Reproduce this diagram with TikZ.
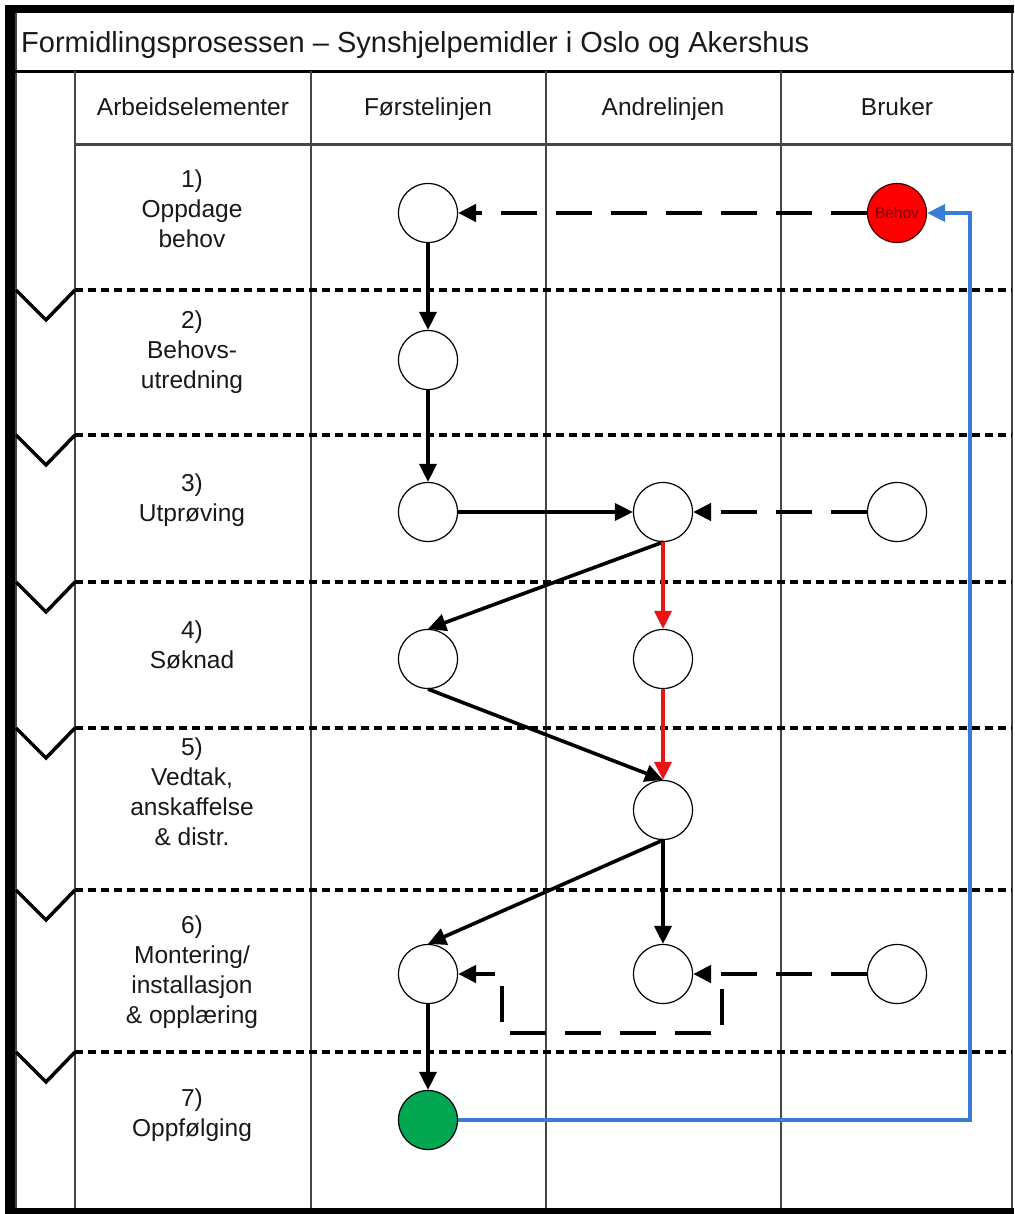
\documentclass[tikz,border=0pt]{standalone}
\usepackage{fontspec}
\setmainfont{Liberation Sans}
\usetikzlibrary{arrows.meta}
\definecolor{bluel}{RGB}{58,125,215}
\definecolor{greenn}{RGB}{0,166,80}
\definecolor{redarr}{RGB}{235,20,20}
\definecolor{gridgray}{RGB}{70,70,70}
\definecolor{txt}{RGB}{25,25,25}
\definecolor{behovtxt}{RGB}{120,0,0}
\begin{document}
\begin{tikzpicture}[x=1pt,y=-1pt,
  circ/.style={circle,draw=black,line width=1.2pt,minimum size=59pt,inner sep=0pt,fill=white},
  tipstyle/.style={-{Triangle[length=18pt,width=17pt]}},
  solidarr/.style={tipstyle,line width=3.6pt,black},
  redarrow/.style={tipstyle,line width=3.6pt,redarr},
  dasharr/.style={tipstyle,line width=4.5pt,black,dash pattern=on 36pt off 19pt},
  rowsep/.style={line width=3.5pt,dash pattern=on 8pt off 5pt},
  colline/.style={line width=2pt,gridgray},
  chev/.style={line width=3.5pt,black,line join=miter},
  lbl/.style={font=\fontsize{24.5}{30}\selectfont,align=center,text=txt,inner sep=0pt},
  hdr/.style={font=\fontsize{24.5}{30}\selectfont,text=txt,inner sep=0pt,anchor=base},
]
\useasboundingbox (0,0) rectangle (1014,1214);
\fill[white] (0,0) rectangle (1014,1214);
% frame
\fill[black] (5,5) rectangle (1014,13);
\fill[black] (5,5) rectangle (14.5,1214);
\fill[black] (5,1208) rectangle (1014,1214);
\draw[gridgray,line width=1.5pt] (16,13) -- (16,1208);
\draw[gridgray,line width=1.5pt] (1012,13) -- (1012,1208);
% title and header lines
\draw[black,line width=3pt] (14,71.5) -- (1014,71.5);
\draw[gridgray,line width=3pt] (75,145) -- (1012,145);
\foreach \x in {75,311,546,781} \draw[colline] (\x,71.5) -- (\x,1208);
% row separators and chevrons
\foreach \y in {290,435,582,728,890,1052} {
  \draw[rowsep] (75,\y) -- (1012,\y);
  \draw[chev] (16,\y) -- (46,\y+30) -- (75,\y);
}
% texts
\node[anchor=base west,font=\fontsize{29}{34}\selectfont,text=txt,inner sep=0pt] (title) at (21,52.5) {Formidlingsprosessen – Synshjelpemidler i Oslo og Akershus};
\node[hdr] (h1) at (193,116) {Arbeidselementer};
\node[hdr] (h2) at (428,116) {Førstelinjen};
\node[hdr] (h3) at (663,116) {Andrelinjen};
\node[hdr] (h4) at (897,116) {Bruker};
\node[lbl] (r1) at (192,209) {1)\\Oppdage\\behov};
\node[lbl] (r2) at (192,352) {2)\\Behovs-\\utredning};
\node[lbl] (r3) at (192,500) {3)\\Utprøving};
\node[lbl] (r4) at (192,645) {4)\\Søknad};
\node[lbl] (r5) at (192,792) {5)\\Vedtak,\\anskaffelse\\\& distr.};
\node[lbl] (r6) at (192,972) {6)\\Montering/\\installasjon\\\& opplæring};
\node[lbl] (r7) at (192,1115) {7)\\Oppfølging};
% circles
\node[circ] (f1) at (428,213) {};
\node[circ,fill=red,draw=black!70!red,font=\fontsize{15.5}{17}\selectfont,text=behovtxt] (b1) at (897,213) {Behov};
\node[circ] (f2) at (428,360) {};
\node[circ] (f3) at (428,512) {};
\node[circ] (a3) at (663,512) {};
\node[circ] (b3) at (897,512) {};
\node[circ] (f4) at (428,659) {};
\node[circ] (a4) at (663,659) {};
\node[circ] (a5) at (663,810) {};
\node[circ] (f6) at (428,974) {};
\node[circ] (a6) at (663,974) {};
\node[circ] (b6) at (897,974) {};
\node[circ,fill=greenn] (f7) at (428,1120) {};
% connectors
\draw[dasharr] (b1) -- (f1);
\draw[solidarr] (f1) -- (f2);
\draw[solidarr] (f2) -- (f3);
\draw[solidarr] (f3) -- (a3);
\draw[dasharr] (b3) -- (a3);
\draw[solidarr] (a3.south) -- (f4.north);
\draw[redarrow] (a3) -- (a4);
\draw[redarrow] (a4) -- (a5);
\draw[solidarr] (f4.south) -- (a5.north);
\draw[solidarr] (a5.south) -- (f6.north);
\draw[solidarr] (a5) -- (a6);
\draw[dasharr] (b6) -- (a6);
\coordinate (lp) at (722,974);
\draw[dasharr,dash phase=40pt] (lp) -- ++(0,59) -| (502,974) -- (f6);
\draw[solidarr] (f6) -- (f7);
\draw[bluel,line width=3.5pt,tipstyle] (f7) -- (970,1120) -- (970,213) -- (b1);
\end{tikzpicture}
\end{document}
